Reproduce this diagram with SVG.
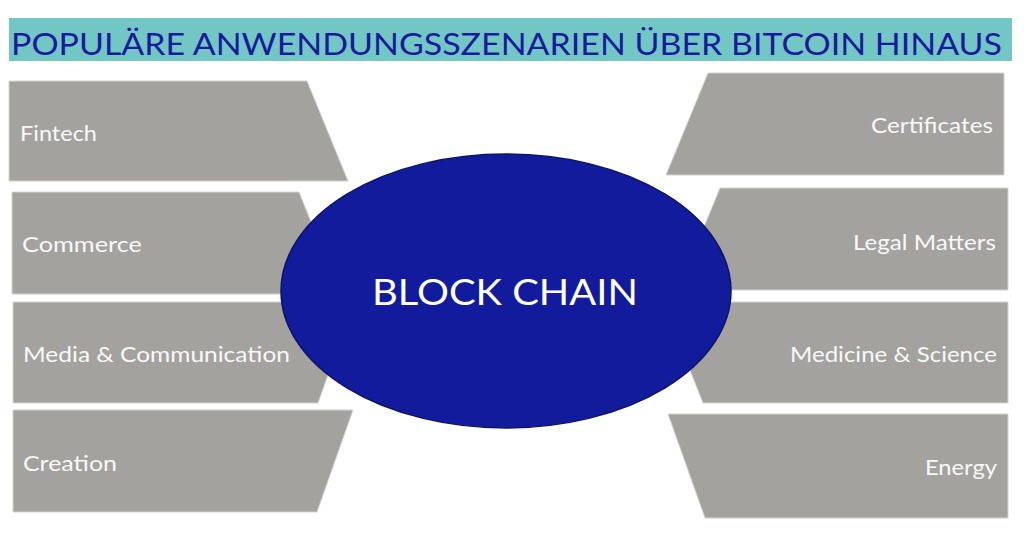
<svg xmlns="http://www.w3.org/2000/svg" width="1024" height="540" viewBox="0 0 1024 540">
<style>
.box{fill:#a4a29e;stroke:#d4d3d0;stroke-width:1}
.lbl{font-family:Lato,"Liberation Sans",sans-serif;font-size:22px;fill:#f8f8f8}
.r{text-anchor:end}
</style>
<rect width="1024" height="540" fill="#ffffff"/>
<g id="title">
<rect x="9" y="18" width="1003" height="43" fill="#72c7c5"/>
<text x="11" y="55" font-family="Lato,'Liberation Sans',sans-serif" font-size="31" fill="#1a1a9c" textLength="991" lengthAdjust="spacingAndGlyphs">POPULÄRE ANWENDUNGSSZENARIEN ÜBER BITCOIN HINAUS</text>
</g>
<g id="fintech"><polygon class="box" points="9,81 307,81 348,181 9,181"/><text class="lbl" x="20" y="141" textLength="77" lengthAdjust="spacingAndGlyphs">Fintech</text></g>
<g id="commerce"><polygon class="box" points="12,192 299,192 340,294 12,294"/><text class="lbl" x="22" y="252" textLength="120" lengthAdjust="spacingAndGlyphs">Commerce</text></g>
<g id="media"><polygon class="box" points="13,302 354,302 318,403 13,403"/><text class="lbl" x="23" y="362" textLength="267" lengthAdjust="spacingAndGlyphs">Media &amp; Communication</text></g>
<g id="creation"><polygon class="box" points="13,410 353,410 317,512 13,512"/><text class="lbl" x="23" y="471" textLength="94" lengthAdjust="spacingAndGlyphs">Creation</text></g>
<g id="certificates"><polygon class="box" points="708,73 1004,73 1004,175 666,175"/><text class="lbl r" x="993" y="133" textLength="122" lengthAdjust="spacingAndGlyphs">Certificates</text></g>
<g id="legal"><polygon class="box" points="720,188 1008,188 1008,290 678,290"/><text class="lbl r" x="996" y="250" textLength="143" lengthAdjust="spacingAndGlyphs">Legal Matters</text></g>
<g id="medicine"><polygon class="box" points="663,302 1008,302 1008,403 703,403"/><text class="lbl r" x="997" y="362" textLength="207" lengthAdjust="spacingAndGlyphs">Medicine &amp; Science</text></g>
<g id="energy"><polygon class="box" points="668,414 1008,414 1008,518 705,518"/><text class="lbl r" x="997" y="475" textLength="72" lengthAdjust="spacingAndGlyphs">Energy</text></g>
<g id="blockchain">
<ellipse cx="506" cy="291" rx="225" ry="137" fill="#111b9c" stroke="#0d1466" stroke-width="1.5"/>
<text x="505" y="305" text-anchor="middle" font-family="Lato,'Liberation Sans',sans-serif" font-size="37" fill="#ffffff" textLength="266" lengthAdjust="spacingAndGlyphs">BLOCK CHAIN</text>
</g>
</svg>
